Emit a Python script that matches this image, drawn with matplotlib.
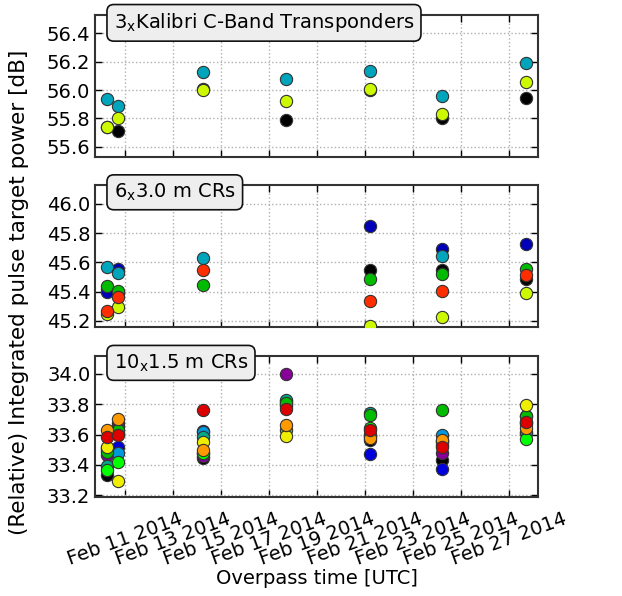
import numpy as np
import pandas as pd
import matplotlib
matplotlib.use('Agg')
import matplotlib.pyplot as plt
import matplotlib.dates as mdates

nan = np.nan

# overpass times (UTC)
overpasses = pd.to_datetime(['2014-02-10 06:00', '2014-02-10 17:00', '2014-02-14 06:00',
                             '2014-02-17 17:00', '2014-02-21 05:00', '2014-02-24 05:00',
                             '2014-02-27 17:00'])

# 3 transponders (colour order: black, cyan, yellow)
transponders = [
    [55.74, 55.71, 56.007, 55.79, 56.00, 55.80, 55.946],
    [55.94, 55.885, 56.126, 56.075, 56.135, 55.96, 56.194],
    [55.743, 55.80, 55.998, 55.92, 56.007, 55.834, 56.054],
]

# 6 x 3.0 m CRs (black, blue, cyan, green, yellow, red)
crs_30 = [
    [45.42, 45.39, nan, nan, 45.546, 45.548, 45.487],
    [45.395, 45.555, nan, nan, 45.846, 45.69, 45.727],
    [45.571, 45.525, 45.633, nan, nan, 45.642, nan],
    [45.441, 45.406, 45.445, nan, 45.487, 45.523, 45.553],
    [45.246, 45.296, nan, nan, 45.168, 45.225, 45.388],
    [45.271, 45.365, 45.546, nan, 45.338, 45.404, 45.512],
]

# 10 x 1.5 m CRs (black, purple, blue, light blue, teal, green, light green, yellow, orange, red)
crs_15 = [
    [33.333, 33.675, 33.443, 33.79, 33.565, 33.432, 33.68],
    [33.465, 33.657, 33.46, 34.00, 33.60, 33.481, 33.67],
    [33.50, 33.520, 33.625, 33.80, 33.470, 33.372, 33.61],
    [33.51, 33.476, 33.620, 33.82, 33.60, 33.598, 33.62],
    [33.392, 33.613, 33.587, 33.83, 33.74, 33.55, 33.72],
    [33.487, 33.631, 33.476, 33.81, 33.726, 33.759, 33.724],
    [33.366, 33.417, 33.48, 33.63, 33.64, 33.53, 33.569],
    [33.520, 33.295, 33.554, 33.59, 33.59, 33.56, 33.792],
    [33.631, 33.704, 33.498, 33.66, 33.580, 33.565, 33.642],
    [33.587, 33.600, 33.764, 33.77, 33.627, 33.516, 33.686],
]

panel_titles = [r'3$_\mathregular{x}$Kalibri C-Band Transponders', r'6$_\mathregular{x}$3.0 m CRs',
                r'10$_\mathregular{x}$1.5 m CRs']
panel_data = [transponders, crs_30, crs_15]
panel_ylims = [(55.53, 56.53), (45.157, 46.13), (33.187, 34.12)]
panel_yticks = [[55.6, 55.8, 56.0, 56.2, 56.4], [45.2, 45.4, 45.6, 45.8, 46.0],
                [33.2, 33.4, 33.6, 33.8, 34.0]]
xlim = pd.to_datetime(['2014-02-09 18:00', '2014-02-28 05:00'])

fig = plt.figure(figsize=(6.22, 5.96), dpi=100)
rects = [(0.153, 0.737, 0.712, 0.238), (0.153, 0.451, 0.712, 0.239), (0.153, 0.166, 0.712, 0.237)]
box_y = [0.944, 0.947, 0.95]
axes = []
for k, rect in enumerate(rects):
    ax = fig.add_axes(rect, sharex=axes[0] if axes else None)
    axes.append(ax)
    data = panel_data[k]
    n = len(data)
    for i, series in enumerate(data):
        color = plt.cm.nipy_spectral(i / n)
        ax.scatter(overpasses, series, s=78, color=color, edgecolor='#333333',
                   linewidth=0.8, zorder=3)
    ax.set_ylim(*panel_ylims[k])
    ax.set_yticks(panel_yticks[k])
    ax.yaxis.set_major_formatter(matplotlib.ticker.FormatStrFormatter('%.1f'))
    ax.grid(True, color='#b0b0b0', linestyle=':', linewidth=1.0)
    ax.tick_params(direction='in', top=True, right=True, length=5, width=1, labelsize=14)
    for sp in ax.spines.values():
        sp.set_color('#333333')
        sp.set_linewidth(1.5)
    ax.text(0.042, box_y[k], panel_titles[k], transform=ax.transAxes, fontsize=14,
            ha='left', va='center', zorder=10,
            bbox=dict(boxstyle='round,pad=0.35', fc='#eeeeee', ec='#111111', lw=1.2))
    if k < 2:
        plt.setp(ax.get_xticklabels(), visible=False)

ax = axes[-1]
ax.set_xlim(xlim[0], xlim[1])
ax.xaxis.set_major_locator(mdates.DayLocator(bymonthday=range(11, 28, 2)))
ax.xaxis.set_major_formatter(mdates.DateFormatter('%b %d %Y'))
ax.tick_params(axis='x', pad=9)
plt.setp(ax.get_xticklabels(), rotation=20, ha='center', fontsize=14)

fig.text(0.51, 1 - 579 / 596, 'Overpass time [UTC]', ha='center', va='center', fontsize=14)
fig.text(0.03, 0.51, '(Relative) Integrated pulse target power [dB]', rotation=90,
         ha='center', va='center', fontsize=15.5)

fig.savefig('out.png', dpi=100)
